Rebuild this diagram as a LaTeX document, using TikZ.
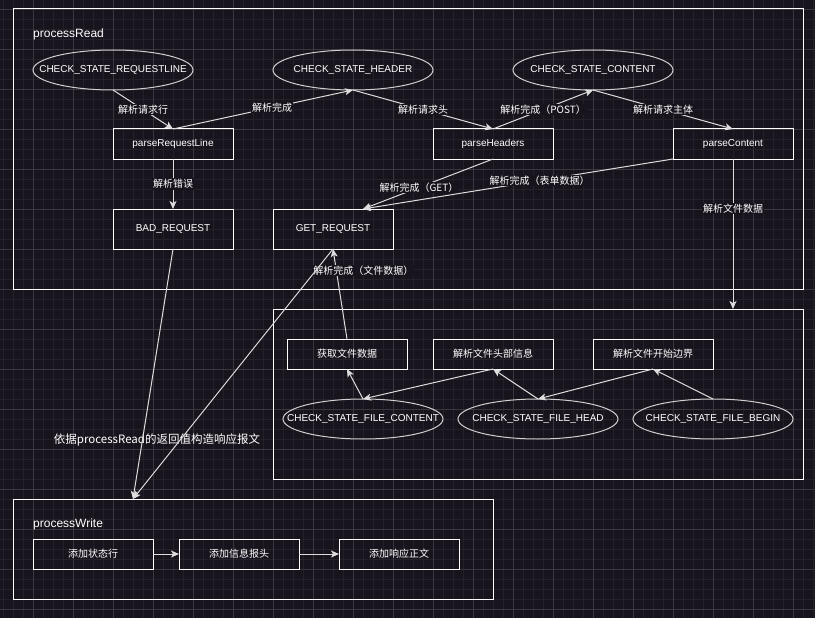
\documentclass[tikz,border=0pt]{standalone}
\usepackage{fontspec}
\setmainfont{Liberation Sans}
\newfontfamily\cjk{Noto Sans CJK SC}
\usetikzlibrary{arrows.meta,positioning,shapes.geometric}
\definecolor{bg}{HTML}{18141D}
\definecolor{gridmajor}{HTML}{3A3741}
\definecolor{gridminor}{HTML}{25212A}
\definecolor{wire}{HTML}{DDDDDD}
\definecolor{rim}{HTML}{CFCFCF}

\begin{document}
\begin{tikzpicture}[
  x=1pt,y=-1pt,
  group/.style={draw=white,line width=1pt,inner sep=0pt,outer sep=0pt,anchor=north west},
  proc/.style={draw=white,line width=1pt,minimum width=120pt,minimum height=30pt,inner sep=0pt,outer sep=0pt,text=white,font=\fontsize{10}{12}\selectfont},
  state/.style={ellipse,draw=rim,line width=1pt,minimum width=160pt,minimum height=40pt,inner sep=0pt,outer sep=0pt,text=white,font=\fontsize{10}{12}\selectfont},
  flow/.style={wire,line width=1pt,-{Stealth[length=8pt,width=7pt,inset=2pt]}},
  lbl/.style={fill=bg,inner sep=1pt,text=white,font=\cjk\fontsize{10}{12}\selectfont},
  title/.style={anchor=west,inner sep=0pt,text=white,font=\fontsize{12}{14}\selectfont}
]
  \useasboundingbox (0,0) rectangle (815,618);
  \fill[bg] (0,0) rectangle (815,618);
  \begin{scope}
    \clip (0,0) rectangle (815,618);
    \draw[gridminor,line width=0.8pt,shift={(3,9)},step=10pt] (-10,-10) grid (815,612);
    \draw[gridmajor,line width=0.8pt,shift={(33,9)},step=40pt] (-40,-40) grid (785,612);
  \end{scope}

  \node[group,minimum width=790pt,minimum height=280pt] (readbox) at (13,9) {};
  \node[group,minimum width=530pt,minimum height=170pt] (filebox) at (273,309) {};
  \node[group,minimum width=480pt,minimum height=100pt] (writebox) at (13,499) {};
  \node[title] (readtitle) at (33,34) {processRead};
  \node[title] (writetitle) at (33,524) {processWrite};

  \node[state] (reqline) at (113,70) {\makebox[0pt]{CHECK\_STATE\_REQUESTLINE}};
  \node[state,right=80pt of reqline] (header) {\makebox[0pt]{CHECK\_STATE\_HEADER}};
  \node[state,right=80pt of header] (content) {\makebox[0pt]{CHECK\_STATE\_CONTENT}};

  \node[proc] (parseline) at (173,144) {parseRequestLine};
  \node[proc,right=200pt of parseline] (parsehead) {parseHeaders};
  \node[proc,right=120pt of parsehead] (parsebody) {parseContent};
  \node[proc,minimum height=40pt,below=50pt of parseline] (badreq) {BAD\_REQUEST};
  \node[proc,minimum height=40pt,right=40pt of badreq] (getreq) {GET\_REQUEST};

  \node[proc] (getdata) at (347,354) {\cjk 获取文件数据};
  \node[proc,right=26pt of getdata] (filehead) {\cjk 解析文件头部信息};
  \node[proc,right=40pt of filehead] (fileborder) {\cjk 解析文件开始边界};
  \node[state] (fcontent) at (363,419) {\makebox[0pt]{CHECK\_STATE\_FILE\_CONTENT}};
  \node[state,right=15pt of fcontent] (fhead) {\makebox[0pt]{CHECK\_STATE\_FILE\_HEAD}};
  \node[state,right=15pt of fhead] (fbegin) {\makebox[0pt]{CHECK\_STATE\_FILE\_BEGIN}};

  \node[proc] (addline) at (93,554) {\cjk 添加状态行};
  \node[proc,right=26pt of addline] (addhead) {\cjk 添加信息报头};
  \node[proc,right=40pt of addhead] (addbody) {\cjk 添加响应正文};

  \node[text=white,inner sep=0pt,font=\cjk\fontsize{11.5}{14}\selectfont] (writenote) at (157,440) {依据processRead的返回值构造响应报文};

  \coordinate (getin) at ([xshift=30pt]getreq.north);
  \coordinate (writein) at ([xshift=-120pt]writebox.north);

  \draw[flow] (reqline.south) -- node[lbl] {解析请求行} (parseline.north);
  \draw[flow] (parseline.north) -- node[lbl,pos=0.55] {解析完成} (header.south);
  \draw[flow] (header.south) -- node[lbl] {解析请求头} (parsehead.north);
  \draw[flow] (parsehead.north) -- node[lbl] {解析完成（POST）} (content.south);
  \draw[flow] (content.south) -- node[lbl] {解析请求主体} (parsebody.north);
  \draw[flow] (parseline.south) -- node[lbl] {解析错误} (badreq.north);
  \draw[flow] (parsehead.south) -- node[lbl,pos=0.57] {解析完成（GET）} (getin);
  \draw[flow] (parsebody.south west) -- node[lbl,pos=0.43] {解析完成（表单数据）} (getin);
  \draw[flow] (parsebody.south) -- node[lbl,pos=0.33] {解析文件数据} (parsebody.south |- filebox.north);

  \draw[flow] (fcontent.north) -- (getdata.south);
  \draw[flow] (filehead.south) -- (fcontent.north);
  \draw[flow] (fhead.north) -- (filehead.south);
  \draw[flow] (fileborder.south) -- (fhead.north);
  \draw[flow] (fbegin.north) -- (fileborder.south);
  \draw[flow] (getdata.north) -- node[lbl,pos=0.76,xshift=27pt] {解析完成（文件数据）} (getreq.south);

  \draw[flow] (badreq.south) -- (writein);
  \draw[flow] (getreq.south) -- (writein);
  \draw[flow] (addline) -- (addhead);
  \draw[flow] (addhead) -- (addbody);
\end{tikzpicture}
\end{document}
